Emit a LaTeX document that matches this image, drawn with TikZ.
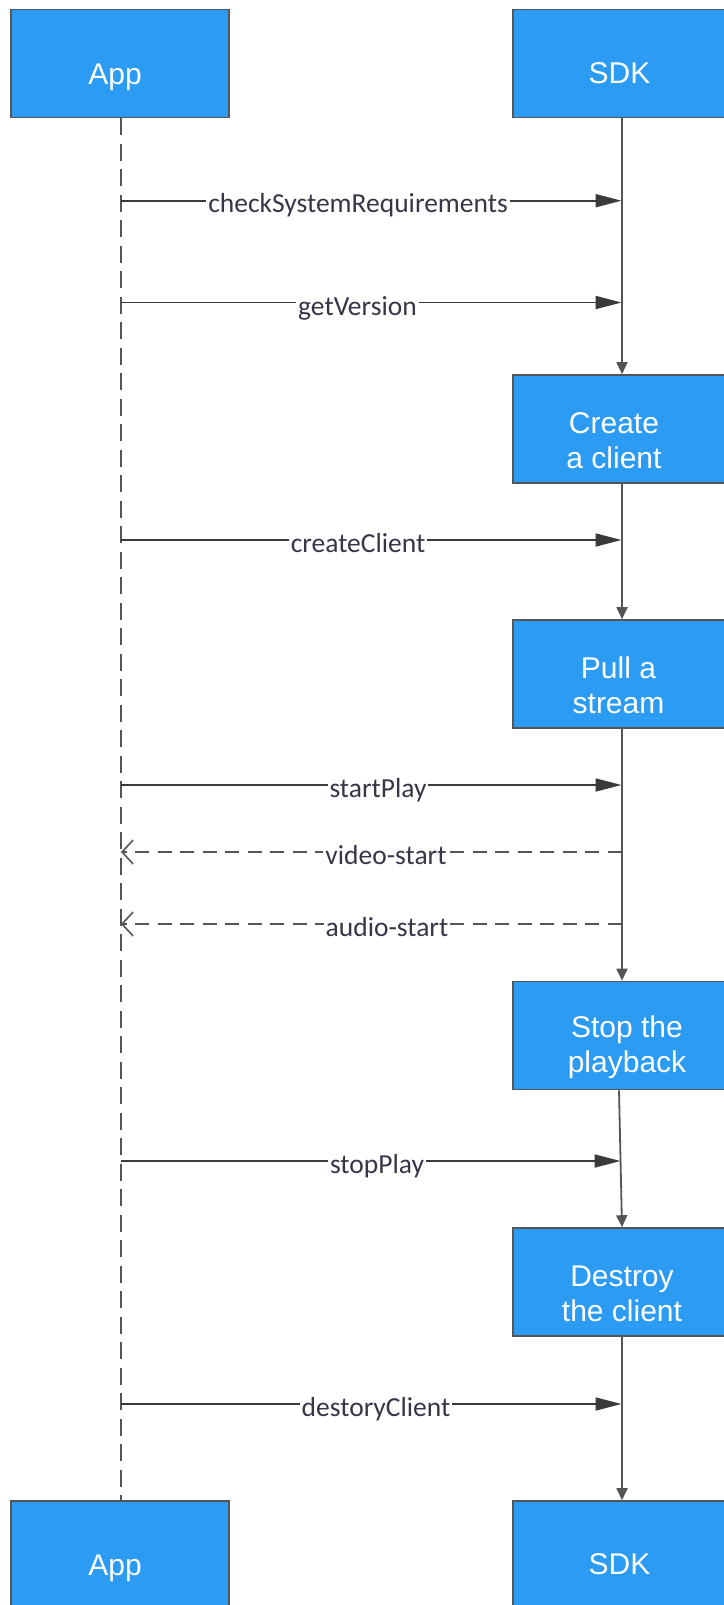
\documentclass[tikz,border=0pt]{standalone}
\usepackage{fontspec}
\setmainfont{Liberation Sans}
\newfontfamily\msgfont{Carlito}
\usetikzlibrary{arrows.meta}
\definecolor{boxblue}{HTML}{2B9BF4}
\definecolor{edgegray}{HTML}{555555}
\definecolor{msggray}{HTML}{3A3A3A}
\definecolor{labelink}{HTML}{363648}
\tikzset{
  actor/.style={draw=edgegray, line width=1.6pt, fill=boxblue,
    minimum width=218pt, minimum height=108pt, inner sep=0pt},
  boxtext/.style={text=white, align=center, inner sep=0pt, yshift=-11.5pt,
    font=\fontsize{30}{35}\selectfont},
  lifeline/.style={draw=edgegray, line width=1.8pt},
  stepflow/.style={lifeline, -{Triangle[length=12pt,width=11pt]}},
  call/.style={draw=msggray, line width=1.8pt, -{Triangle[length=26pt,width=13pt]}},
  reply/.style={draw=edgegray, line width=1.8pt, dash pattern=on 14pt off 8.5pt,
    -{Straight Barb[length=11pt,width=24pt,line width=1.6pt]}},
  msg/.style={fill=white, text=labelink, inner xsep=2pt, inner ysep=1pt,
    anchor=base, font=\msgfont\fontsize{27.5}{32}\selectfont}
}
\begin{document}
\begin{tikzpicture}[x=1pt,y=-1pt]
  \useasboundingbox[fill=white] (0,0) rectangle (723,1605);

  % participants and SDK activity boxes
  \node[actor, label={[boxtext, xshift=-5pt, yshift=-2pt]center:App}] (appTop) at (120,63.5) {};
  \node[actor, label={[boxtext, xshift=-2.5pt, yshift=2pt]center:SDK}] (sdkTop) at (622,63.5) {};
  \node[actor, label={[boxtext, xshift=-8pt]center:Create\\a client}] (create) at (622,429) {};
  \node[actor, label={[boxtext, xshift=-3.5pt]center:Pull a\\stream}] (pull) at (622,674) {};
  \node[actor, label={[boxtext, xshift=5pt]center:Stop the\\playback}] (stop) at (622,1035.5) {};
  \node[actor, label={[boxtext]center:Destroy\\the client}] (destroy) at (622,1282) {};
  \node[actor, label={[boxtext, xshift=-5pt, yshift=-2pt]center:App}] (appBot) at (120,1555) {};
  \node[actor, label={[boxtext, xshift=-2.5pt, yshift=2pt]center:SDK}] (sdkBot) at (622,1555) {};

  % App lifeline
  \draw[lifeline, dash pattern=on 17pt off 8.5pt] ([xshift=1pt]appTop.south) -- ([xshift=1pt]appBot.north);

  % SDK lifeline between boxes
  \draw[stepflow] (sdkTop.south) -- (create.north);
  \draw[stepflow] (create.south) -- (pull.north);
  \draw[stepflow] (pull.south) -- (stop.north);
  \draw[stepflow] ([xshift=-3pt]stop.south) -- (destroy.north);
  \draw[stepflow] (destroy.south) -- (sdkBot.north);

  % message end points
  \coordinate (a1) at (121,200.7);  \coordinate (s1) at (621.5,200.7);
  \coordinate (a2) at (121,302.5);  \coordinate (s2) at (621.5,302.5);
  \coordinate (a3) at (121,540);    \coordinate (s3) at (621.5,540);
  \coordinate (a4) at (121,785);    \coordinate (s4) at (621.5,785);
  \coordinate (a5) at (121,852);    \coordinate (s5) at (621.5,852);
  \coordinate (a6) at (121,924);    \coordinate (s6) at (621.5,924);
  \coordinate (a7) at (121,1161);   \coordinate (s7) at (620.5,1161);
  \coordinate (a8) at (121,1404);   \coordinate (s8) at (621.5,1404);

  % calls from App to SDK
  \draw[call] (a1) -- (s1);
  \draw[call] (a2) -- (s2);
  \draw[call] (a3) -- (s3);
  \draw[call] (a4) -- (s4);
  \draw[call] (a7) -- (s7);
  \draw[call] (a8) -- (s8);
  % events back to App
  \draw[reply] (s5) -- (a5);
  \draw[reply] (s6) -- (a6);

  % message labels
  \node[msg] (l1) at (358,212.7) {checkSystemRequirements};
  \node[msg] (l2) at (357.5,315) {getVersion};
  \node[msg] (l3) at (358,552.5) {createClient};
  \node[msg] (l4) at (378,797.5) {startPlay};
  \node[msg] (l5) at (386,864.5) {video-start};
  \node[msg] (l6) at (387,936.5) {audio-start};
  \node[msg] (l7) at (377,1173.5) {stopPlay};
  \node[msg] (l8) at (376,1416.5) {destoryClient};
\end{tikzpicture}
\end{document}
